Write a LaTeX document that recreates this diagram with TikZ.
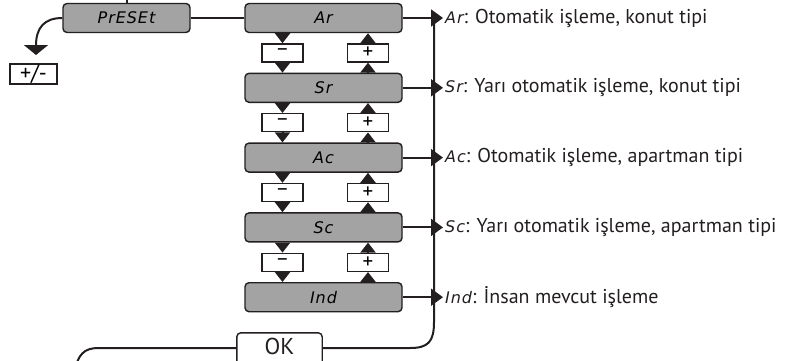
\documentclass[tikz,border=0pt]{standalone}
\usepackage{fontspec}
\setmainfont{PT Sans}
\newfontfamily\lcd[LetterSpace=6]{DejaVu Sans}
\usetikzlibrary{arrows.meta}
\definecolor{boxgray}{RGB}{163,163,163}
\definecolor{ink}{RGB}{35,31,32}
\newcommand{\lcdtxt}[1]{{\lcd\itshape\fontsize{16}{16}\selectfont #1}}
\begin{document}
\begin{tikzpicture}[x=1pt,y=-1pt,
 lcdbox/.style={draw=ink,line width=1.4pt,fill=boxgray,rounded corners=4pt,minimum width=157pt,minimum height=29pt,inner sep=0pt,font=\lcd\itshape\fontsize{16}{16}\selectfont},
 keybox/.style={draw=ink,line width=1.4pt,fill=white,minimum width=41pt,minimum height=18pt,inner sep=0pt,font=\fontsize{21}{21}\selectfont},
 conn/.style={draw=ink,line width=2pt},
 vtri/.style={-{Triangle[width=15pt,length=10pt]}},
 htri/.style={-{Triangle[width=17pt,length=12pt]}},
 desc/.style={anchor=west,inner sep=0pt,text=ink,font=\fontsize{20}{24}\selectfont}
]
\useasboundingbox (0,0) rectangle (808,360);
\clip (0,0) rectangle (808,360);

% main boxes
\node[lcdbox,minimum width=127pt] (preset) at (126.5,18) {PrESEt};
\node[lcdbox] (b1) at (323.5,18) {Ar};
\node[lcdbox] (b2) at (323.5,87.8) {Sr};
\node[lcdbox] (b3) at (323.5,157.6) {Ac};
\node[lcdbox] (b4) at (323.5,227.4) {Sc};
\node[lcdbox] (b5) at (323.5,297.2) {Ind};

% minus / plus keys
\foreach \i/\y in {1/52.9,2/122.7,3/192.5,4/262.3}{
  \node[keybox] (m\i) at (282.5,\y) {\char"2212};
  \node[keybox] (p\i) at (368,\y) {+};
}

% +/- and OK
\node[draw=ink,line width=1.4pt,fill=white,minimum width=47pt,minimum height=20pt,inner sep=0pt,font=\fontsize{22}{22}\selectfont] (pm) at (33.5,74) {+/-};
\node[inner sep=0pt,minimum width=85pt,minimum height=22pt,text=ink,font=\fontsize{23}{23}\selectfont] (ok) at (279.5,346) {OK};
\draw[ink,line width=1.4pt,rounded corners=4pt] (ok.south west) ++(0,10) |- ([yshift=2pt]ok.north east) -- ++(0,40);

\coordinate (pmtip) at (36,55);
\coordinate (tip) at (443,0);
\coordinate (bustop) at (434,18);
\coordinate (busbend) at (434,322);
\coordinate (busend) at (410,348);
\coordinate (leftbend) at (98,348);
\coordinate (leftend) at (75,370);

% connectors
\draw[conn] (preset.north) -- ++(0,-12);
\draw[conn] (preset.east) -- (b1.west);
\draw[conn,-{Triangle[width=24pt,length=10pt]}] (preset.west) .. controls (44,18) and (36,28) .. (pmtip);

\foreach \i/\j in {1/2,2/3,3/4,4/5}{
  \draw[conn,vtri] (b\i.south -| m\i) -- (m\i.north);
  \draw[conn,vtri] (m\i.south) -- (b\j.north -| m\i);
  \draw[conn,vtri] (b\j.north -| p\i) -- (p\i.south);
  \draw[conn,vtri] (p\i.north) -- (b\i.south -| p\i);
}

\foreach \i in {1,...,5}{
  \draw[conn,htri] (b\i.east) -- (b\i.east -| tip);
}

\draw[conn] (bustop) -- (busbend) .. controls (434,342) and (428,348) .. (busend) -- (ok.east |- busend);
\draw[conn] (ok.west |- busend) -- (leftbend) .. controls (84,348) and (78,355) .. (leftend);

% descriptions
\node[desc] (d1) at (445,18) {\lcdtxt{Ar}: Otomatik işleme, konut tipi};
\node[desc] (d2) at (445,87.8) {\lcdtxt{Sr}: Yarı otomatik işleme, konut tipi};
\node[desc] (d3) at (445,157.6) {\lcdtxt{Ac}: Otomatik işleme, apartman tipi};
\node[desc] (d4) at (445,227.4) {\lcdtxt{Sc}: Yarı otomatik işleme, apartman tipi};
\node[desc] (d5) at (445,297.2) {\lcdtxt{Ind}: İnsan mevcut işleme};
\end{tikzpicture}
\end{document}
